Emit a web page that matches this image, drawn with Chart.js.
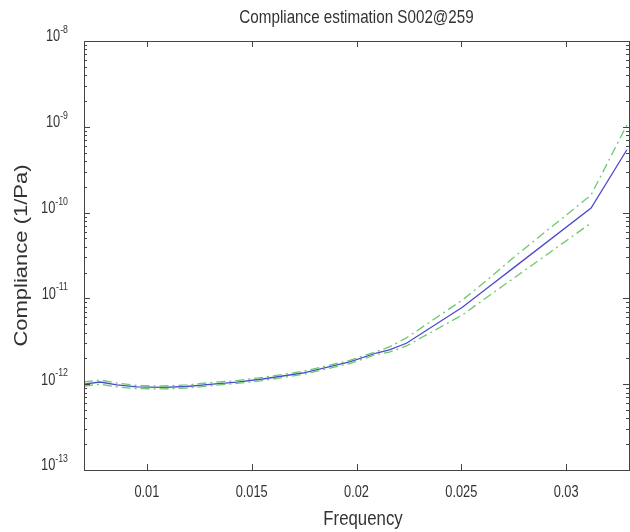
<!DOCTYPE html>
<html>
<head>
<meta charset="utf-8">
<script src="https://cdn.jsdelivr.net/npm/chart.js@4"></script>
<style>
  html, body { margin: 0; padding: 0; background: #fff; }
  #wrap { width: 630px; height: 532px; }
</style>
</head>
<body>
<div id="wrap"><canvas id="chartCanvas" width="630" height="532"></canvas></div>
<script>
// values
const freqs = [0.0070, 0.00776, 0.00857, 0.00952, 0.01076, 0.0119, 0.01314, 0.01429, 0.01552, 0.01743,
               0.01967, 0.02095, 0.02157, 0.02238, 0.02505, 0.02624, 0.02752, 0.03119, 0.0329];
const compliance = [1.0e-12, 1.06e-12, 0.98e-12, 0.93e-12, 0.916e-12, 0.94e-12, 1.0e-12, 1.06e-12, 1.15e-12, 1.35e-12,
                    1.82e-12, 2.31e-12, 2.51e-12, 3.0e-12, 7.9e-12, 1.32e-11, 2.3e-11, 1.13e-10, 5.4e-10];
const upperBound = [1.06e-12, 1.12e-12, 1.03e-12, 0.966e-12, 0.953e-12, 0.98e-12, 1.05e-12, 1.10e-12, 1.2e-12, 1.41e-12,
                    1.89e-12, 2.40e-12, 2.72e-12, 3.46e-12, 9.57e-12, 1.64e-11, 3.04e-11, 1.60e-10, 1.05e-9];
const lowerBound = [0.953e-12, 1.0e-12, 0.93e-12, 0.89e-12, 0.88e-12, 0.90e-12, 0.966e-12, 1.02e-12, 1.10e-12, 1.30e-12,
                    1.74e-12, 2.22e-12, 2.37e-12, 2.79e-12, 6.41e-12, 1.04e-11, 1.73e-11, 7.57e-11, null];

const xTicks = [0.01, 0.015, 0.02, 0.025, 0.03];
const xTickLabels = ['0.01', '0.015', '0.02', '0.025', '0.03'];
const yExponents = [-13, -12, -11, -10, -9, -8];
const yTickLabels = ['-13', '-12', '-11', '-10', '-9', '-8'];

const textColor = '#333';
const axisColor = '#444';
const squeeze = 0.8; // the reference text is narrowed horizontally

function toPoints(vals) {
    return freqs.map((f, i) => ({ x: f, y: vals[i] }));
}

function drawText(ctx, str, x, y, align, font, sx, sy) {
    ctx.save();
    ctx.translate(x, y);
    ctx.scale(sx, sy);
    ctx.font = font;
    ctx.textAlign = align;
    ctx.textBaseline = 'middle';
    ctx.fillStyle = textColor;
    ctx.fillText(str, 0, 0);
    ctx.restore();
}

const matlabAxes = {
    id: 'matlabAxes',
    afterDatasetsDraw(chart) {
        const ctx = chart.ctx;
        const a = chart.chartArea;
        const xs = chart.scales.x;
        const ys = chart.scales.y;

        ctx.save();
        ctx.strokeStyle = axisColor;
        ctx.lineWidth = 1;
        ctx.strokeRect(a.left + 0.5, a.top + 0.5, a.right - a.left, a.bottom - a.top);

        ctx.beginPath();
        xTicks.forEach(v => {
            const px = Math.round(xs.getPixelForValue(v)) + 0.5;
            ctx.moveTo(px, a.bottom); ctx.lineTo(px, a.bottom - 6);
            ctx.moveTo(px, a.top); ctx.lineTo(px, a.top + 6);
        });
        yExponents.forEach((e, k) => {
            const py = Math.round(ys.getPixelForValue(Math.pow(10, e))) + 0.5;
            ctx.moveTo(a.left, py); ctx.lineTo(a.left + 6, py);
            ctx.moveTo(a.right, py); ctx.lineTo(a.right - 6, py);
            if (k < yExponents.length - 1) {
                for (let m = 2; m <= 9; m++) {
                    const my = Math.round(ys.getPixelForValue(m * Math.pow(10, e))) + 0.5;
                    ctx.moveTo(a.left, my); ctx.lineTo(a.left + 3, my);
                    ctx.moveTo(a.right, my); ctx.lineTo(a.right - 3, my);
                }
            }
        });
        ctx.stroke();
        ctx.restore();

        // x tick labels
        xTicks.forEach((v, i) => {
            drawText(ctx, xTickLabels[i], xs.getPixelForValue(v), a.bottom + 23, 'center', '16px "Liberation Sans"', squeeze, 1);
        });

        // y tick labels 10^e
        yExponents.forEach((e, i) => {
            const py = ys.getPixelForValue(Math.pow(10, e));
            ctx.font = '11px "Liberation Sans"';
            const wExp = ctx.measureText(yTickLabels[i]).width * squeeze;
            const right = a.left - 16;
            drawText(ctx, yTickLabels[i], right - wExp, py - 11, 'left', '11px "Liberation Sans"', squeeze, 1);
            drawText(ctx, '10', right - wExp, py - 4, 'right', '16px "Liberation Sans"', squeeze, 1);
        });

        // titles
        drawText(ctx, 'Compliance estimation S002@259', (a.left + a.right) / 2, 18, 'center', '19px "Liberation Sans"', squeeze, 1);
        drawText(ctx, 'Frequency', 363, 519, 'center', '21px "Liberation Sans"', squeeze, 1);

        ctx.save();
        ctx.translate(22, (a.top + a.bottom) / 2);
        ctx.rotate(-Math.PI / 2);
        ctx.scale(1, squeeze);
        ctx.font = '22px "Liberation Sans"';
        ctx.textAlign = 'center';
        ctx.textBaseline = 'middle';
        ctx.fillStyle = textColor;
        ctx.fillText('Compliance (1/Pa)', 0, 0);
        ctx.restore();
    }
};

const ctx = document.getElementById('chartCanvas').getContext('2d');
new Chart(ctx, {
    type: 'line',
    data: {
        datasets: [
            {
                label: 'upper',
                data: toPoints(upperBound),
                borderColor: 'rgb(110,200,110)',
                borderWidth: 1.3,
                borderDash: [9, 4, 2, 4],
                pointRadius: 0,
                fill: false,
                spanGaps: false
            },
            {
                label: 'lower',
                data: toPoints(lowerBound),
                borderColor: 'rgb(110,200,110)',
                borderWidth: 1.3,
                borderDash: [9, 4, 2, 4],
                pointRadius: 0,
                fill: false,
                spanGaps: false
            },
            {
                label: 'compliance',
                data: toPoints(compliance),
                borderColor: 'rgb(75,75,205)',
                borderWidth: 1.3,
                pointRadius: 0,
                fill: false
            }
        ]
    },
    options: {
        responsive: false,
        animation: false,
        layout: { padding: { left: 84, top: 41, right: 1, bottom: 62 } },
        plugins: {
            legend: { display: false },
            tooltip: { enabled: false }
        },
        scales: {
            x: { type: 'linear', min: 0.007, max: 0.033, display: false },
            y: { type: 'logarithmic', min: 1e-13, max: 1e-8, display: false }
        }
    },
    plugins: [matlabAxes]
});
</script>
</body>
</html>
